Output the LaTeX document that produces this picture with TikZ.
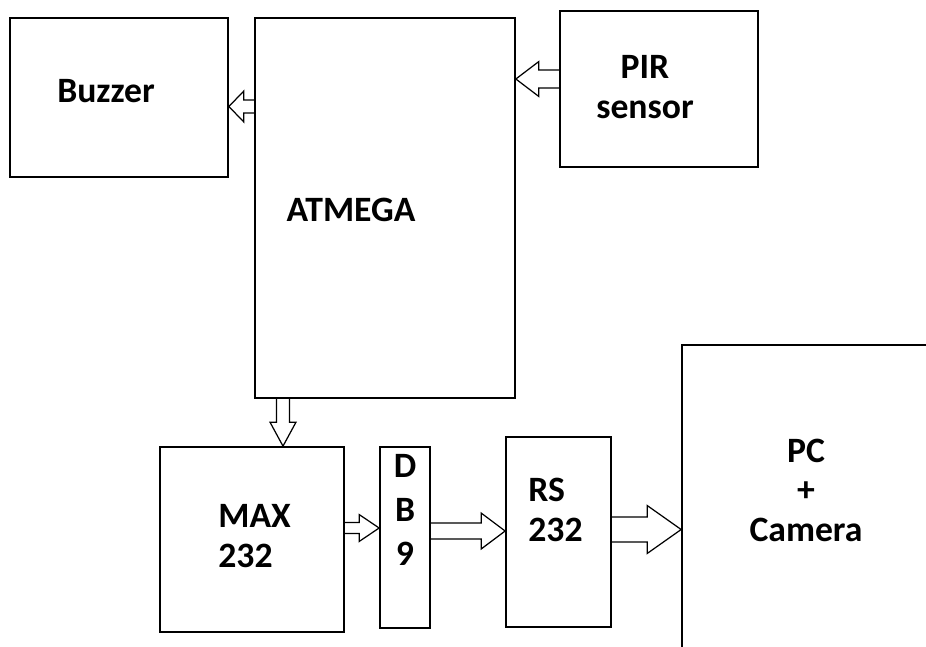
\documentclass[tikz,border=0pt]{standalone}
\usepackage{fontspec}
\setsansfont{Carlito}
\usetikzlibrary{calc}

\tikzset{
    box/.style={draw, line width=1pt, inner sep=0pt},
    lbl/.style={font=\sffamily\bfseries\fontsize{20.3}{22.5}\selectfont, inner sep=0pt},
    blockarrow/.style={draw, line width=0.7pt, line join=miter},
}

% hollow block arrow: start, tip, shaft half width, head half width, head length
\newcommand{\hollowarrow}[5]{%
    \path (#1) coordinate (ha-s) (#2) coordinate (ha-t);
    \path ($(ha-t)!#5!(ha-s)$) coordinate (ha-h);
    \draw[blockarrow] ($(ha-s)!#3!90:(ha-t)$) -- ($(ha-h)!#3!90:(ha-t)$)
        -- ($(ha-h)!#4!90:(ha-t)$) -- (ha-t) -- ($(ha-h)!#4!-90:(ha-t)$)
        -- ($(ha-h)!#3!-90:(ha-t)$) -- ($(ha-s)!#3!-90:(ha-t)$);
}

\begin{document}
\begin{tikzpicture}[x=0.02cm, y=-0.02cm]
    \useasboundingbox (0,0) rectangle (926,646);
    \clip (0,0) rectangle (926,646);

    % Boxes
    \node[box, minimum width=4.36cm, minimum height=3.18cm] (buzzer) at (119,97.5) {};
    \node[box, minimum width=5.2cm, minimum height=7.6cm] (atmega) at (385,208) {};
    \node[box, minimum width=3.96cm, minimum height=3.12cm] (pir) at (659,89) {};
    \node[box, minimum width=3.68cm, minimum height=3.7cm] (max) at (252,539.5) {};
    \node[box, minimum width=1cm, minimum height=3.62cm] (db) at (405,537.5) {};
    \node[box, minimum width=2.1cm, minimum height=3.8cm] (rs) at (558.5,532) {};
    \node[box, minimum width=6.36cm, minimum height=7.1cm] (pc) at (841,522.5) {};

    % Labels
    \node[lbl] (buzzertxt) at (106,91) {Buzzer};
    \node[lbl] (atmegatxt) at (351,210) {ATMEGA};
    \node[lbl, align=center] (pirtxt) at (645,87) {PIR\\sensor};
    \node[lbl, align=left, anchor=west] (maxtxt) at (218,536) {MAX\\232};
    \node[lbl, align=center, font=\sffamily\bfseries\fontsize{20.3}{25}\selectfont] (dbtxt) at (405,510) {D\\B\\9};
    \node[lbl, align=left, anchor=west] (rstxt) at (528,510) {RS\\232};
    \node[lbl, align=center] (pctxt) at (806,490) {PC\\+\\Camera};

    % Arrows
    \hollowarrow{atmega.west |- 0,106.5}{buzzer.east |- 0,106.5}{0.13cm}{0.31cm}{0.3cm}
    \hollowarrow{pir.west |- 0,79}{atmega.east |- 0,79}{0.18cm}{0.35cm}{0.46cm}
    \hollowarrow{atmega.south -| 283,0}{max.north -| 283,0}{0.13cm}{0.26cm}{0.48cm}
    \hollowarrow{max.east |- 0,528}{db.west |- 0,528}{0.11cm}{0.27cm}{0.4cm}
    \hollowarrow{db.east |- 0,531}{rs.west |- 0,531}{0.16cm}{0.36cm}{0.48cm}
    \hollowarrow{rs.east |- 0,529.5}{pc.west |- 0,529.5}{0.25cm}{0.48cm}{0.68cm}
\end{tikzpicture}
\end{document}
